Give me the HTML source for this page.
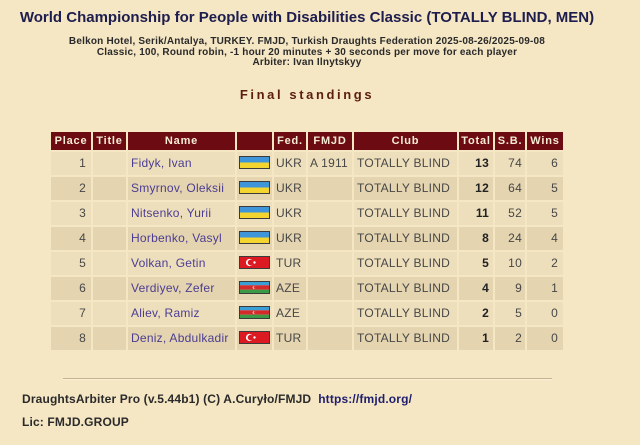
<!DOCTYPE html>
<html>
<head>
<meta charset="utf-8">
<style>
  html,body{margin:0;padding:0;}
  body{width:640px;height:445px;background:#f5e6c4;position:relative;overflow:hidden;font-family:"Liberation Sans",Arial,sans-serif;}
  .abs{position:absolute;}
  .title{left:0;width:614px;top:8px;text-align:center;font-size:15px;font-weight:bold;color:#1d1d4e;line-height:20px;white-space:nowrap;}
  .sub{left:0;width:614px;top:37px;text-align:center;font-size:10px;font-weight:bold;color:#2a2a2a;line-height:10.6px;letter-spacing:0.2px;white-space:nowrap;}
  .fs{left:0;width:614px;top:87px;text-align:center;font-size:13px;font-weight:bold;color:#5a1d0e;letter-spacing:2.6px;line-height:16px;}
  .row{position:absolute;left:51px;display:flex;gap:2px;}
  .row div{box-sizing:border-box;white-space:nowrap;overflow:hidden;}
  .hd{top:132px;height:18px;}
  .hd div{background:#6c0c12;color:#f6ecd6;font-weight:bold;font-size:11px;letter-spacing:0.8px;line-height:18px;text-align:center;height:18px;}
  .br div{height:23px;line-height:23px;font-size:12px;color:#474747;letter-spacing:0.25px;}
  .odd div{background:#eedfbc;}
  .even div{background:#e4d4b0;}
  .c1{width:40px;text-align:right;padding-right:5px;}
  .c2{width:33px;}
  .c3{width:107px;padding-left:3px;}
  .c4{width:35px;position:relative;}
  .c5{width:32px;padding-left:2px;}
  .c6{width:44px;padding-left:2px;}
  .c7{width:103px;padding-left:3px;}
  .c8{width:34px;text-align:right;padding-right:4px;}
  .c9{width:30px;text-align:right;padding-right:3px;}
  .c10{width:36px;text-align:right;padding-right:5px;}
  .hd .c1,.hd .c2,.hd .c3,.hd .c5,.hd .c6,.hd .c7,.hd .c8,.hd .c9,.hd .c10{padding:0;text-align:center;}
  .br .c3{color:#4b3d92;}
  .br .c8{font-weight:bold;color:#222;}
  .flag{position:absolute;left:2px;top:4px;}
  .hr{left:63px;width:489px;top:378px;height:0;border-top:1px solid #c2b392;border-bottom:1px solid #fbf0d6;}
  .foot{left:22px;font-size:12px;font-weight:bold;color:#2a2a2a;letter-spacing:0.15px;line-height:14px;white-space:nowrap;}
  .foot span{color:#1e1e6e;}
</style>
</head>
<body>
<div class="abs title">World Championship for People with Disabilities Classic (TOTALLY BLIND, MEN)</div>
<div class="abs sub">Belkon Hotel, Serik/Antalya, TURKEY. FMJD, Turkish Draughts Federation 2025-08-26/2025-09-08<br>Classic, 100, Round robin, -1 hour 20 minutes + 30 seconds per move for each player<br>Arbiter: Ivan Ilnytskyy</div>
<div class="abs fs">Final standings</div>

<div class="row hd">
  <div class="c1">Place</div><div class="c2">Title</div><div class="c3">Name</div><div class="c4"></div><div class="c5">Fed.</div><div class="c6">FMJD</div><div class="c7">Club</div><div class="c8">Total</div><div class="c9">S.B.</div><div class="c10">Wins</div>
</div>

<div class="row br odd" style="top:152px;">
  <div class="c1">1</div><div class="c2"></div><div class="c3">Fidyk, Ivan</div>
  <div class="c4"><svg class="flag" width="31" height="13"><rect width="31" height="6.5" fill="#3f95d9"/><rect y="6.5" width="31" height="6.5" fill="#f4d530"/><rect x=".5" y=".5" width="30" height="12" fill="none" stroke="#3b3b3b"/></svg></div>
  <div class="c5">UKR</div><div class="c6">A 1911</div><div class="c7">TOTALLY BLIND</div><div class="c8">13</div><div class="c9">74</div><div class="c10">6</div>
</div>
<div class="row br even" style="top:177px;">
  <div class="c1">2</div><div class="c2"></div><div class="c3">Smyrnov, Oleksii</div>
  <div class="c4"><svg class="flag" width="31" height="13"><rect width="31" height="6.5" fill="#3f95d9"/><rect y="6.5" width="31" height="6.5" fill="#f4d530"/><rect x=".5" y=".5" width="30" height="12" fill="none" stroke="#3b3b3b"/></svg></div>
  <div class="c5">UKR</div><div class="c6"></div><div class="c7">TOTALLY BLIND</div><div class="c8">12</div><div class="c9">64</div><div class="c10">5</div>
</div>
<div class="row br odd" style="top:202px;">
  <div class="c1">3</div><div class="c2"></div><div class="c3">Nitsenko, Yurii</div>
  <div class="c4"><svg class="flag" width="31" height="13"><rect width="31" height="6.5" fill="#3f95d9"/><rect y="6.5" width="31" height="6.5" fill="#f4d530"/><rect x=".5" y=".5" width="30" height="12" fill="none" stroke="#3b3b3b"/></svg></div>
  <div class="c5">UKR</div><div class="c6"></div><div class="c7">TOTALLY BLIND</div><div class="c8">11</div><div class="c9">52</div><div class="c10">5</div>
</div>
<div class="row br even" style="top:227px;">
  <div class="c1">4</div><div class="c2"></div><div class="c3">Horbenko, Vasyl</div>
  <div class="c4"><svg class="flag" width="31" height="13"><rect width="31" height="6.5" fill="#3f95d9"/><rect y="6.5" width="31" height="6.5" fill="#f4d530"/><rect x=".5" y=".5" width="30" height="12" fill="none" stroke="#3b3b3b"/></svg></div>
  <div class="c5">UKR</div><div class="c6"></div><div class="c7">TOTALLY BLIND</div><div class="c8">8</div><div class="c9">24</div><div class="c10">4</div>
</div>
<div class="row br odd" style="top:252px;">
  <div class="c1">5</div><div class="c2"></div><div class="c3">Volkan, Getin</div>
  <div class="c4"><svg class="flag" width="31" height="13"><rect width="31" height="13" fill="#dc1a22"/><circle cx="10.5" cy="6.5" r="3.6" fill="#fff"/><circle cx="11.6" cy="6.5" r="2.9" fill="#dc1a22"/><circle cx="15.5" cy="6.5" r="1.2" fill="#fff"/><rect x=".5" y=".5" width="30" height="12" fill="none" stroke="#3b3b3b"/></svg></div>
  <div class="c5">TUR</div><div class="c6"></div><div class="c7">TOTALLY BLIND</div><div class="c8">5</div><div class="c9">10</div><div class="c10">2</div>
</div>
<div class="row br even" style="top:277px;">
  <div class="c1">6</div><div class="c2"></div><div class="c3">Verdiyev, Zefer</div>
  <div class="c4"><svg class="flag" width="31" height="13"><rect width="31" height="4.3" fill="#3a9fd6"/><rect y="4.3" width="31" height="4.4" fill="#d42a2c"/><rect y="8.7" width="31" height="4.3" fill="#3c9a46"/><circle cx="15" cy="6.5" r="1.3" fill="#fff"/><circle cx="15.5" cy="6.5" r="1" fill="#d42a2c"/><rect x=".5" y=".5" width="30" height="12" fill="none" stroke="#3b3b3b"/></svg></div>
  <div class="c5">AZE</div><div class="c6"></div><div class="c7">TOTALLY BLIND</div><div class="c8">4</div><div class="c9">9</div><div class="c10">1</div>
</div>
<div class="row br odd" style="top:302px;">
  <div class="c1">7</div><div class="c2"></div><div class="c3">Aliev, Ramiz</div>
  <div class="c4"><svg class="flag" width="31" height="13"><rect width="31" height="4.3" fill="#3a9fd6"/><rect y="4.3" width="31" height="4.4" fill="#d42a2c"/><rect y="8.7" width="31" height="4.3" fill="#3c9a46"/><circle cx="15" cy="6.5" r="1.3" fill="#fff"/><circle cx="15.5" cy="6.5" r="1" fill="#d42a2c"/><rect x=".5" y=".5" width="30" height="12" fill="none" stroke="#3b3b3b"/></svg></div>
  <div class="c5">AZE</div><div class="c6"></div><div class="c7">TOTALLY BLIND</div><div class="c8">2</div><div class="c9">5</div><div class="c10">0</div>
</div>
<div class="row br even" style="top:327px;">
  <div class="c1">8</div><div class="c2"></div><div class="c3">Deniz, Abdulkadir</div>
  <div class="c4"><svg class="flag" width="31" height="13"><rect width="31" height="13" fill="#dc1a22"/><circle cx="10.5" cy="6.5" r="3.6" fill="#fff"/><circle cx="11.6" cy="6.5" r="2.9" fill="#dc1a22"/><circle cx="15.5" cy="6.5" r="1.2" fill="#fff"/><rect x=".5" y=".5" width="30" height="12" fill="none" stroke="#3b3b3b"/></svg></div>
  <div class="c5">TUR</div><div class="c6"></div><div class="c7">TOTALLY BLIND</div><div class="c8">1</div><div class="c9">2</div><div class="c10">0</div>
</div>

<div class="abs hr"></div>
<div class="abs foot" style="top:392px;">DraughtsArbiter Pro (v.5.44b1) (C) A.Curyło/FMJD&nbsp;&nbsp;<span>https://fmjd.org/</span></div>
<div class="abs foot" style="top:415px;">Lic: FMJD.GROUP</div>
</body>
</html>
